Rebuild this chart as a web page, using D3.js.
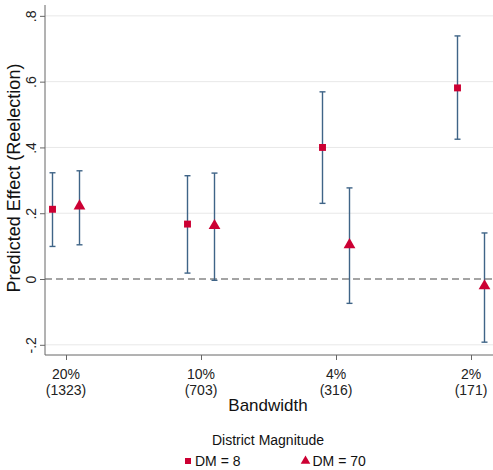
<!DOCTYPE html>
<html>
<head>
<meta charset="utf-8">
<script src="https://cdn.jsdelivr.net/npm/d3@7"></script>
<style>
  body { margin: 0; background: #fff; }
  svg { font-family: "Liberation Sans", Arial, sans-serif; }
</style>
</head>
<body>
<div id="chart"></div>
<script>
// data
const bandwidths = ["20%", "10%", "4%", "2%"];
const obsCounts = ["(1323)", "(703)", "(316)", "(171)"];
const yTicks = [-0.2, 0, 0.2, 0.4, 0.6, 0.8];
const yTickLabels = ["-.2", "0", ".2", ".4", ".6", ".8"];

const dm8Est = [0.212, 0.167, 0.400, 0.581];
const dm8Lo = [0.099, 0.018, 0.230, 0.425];
const dm8Hi = [0.323, 0.314, 0.569, 0.739];

const dm70Est = [0.222, 0.162, 0.104, -0.021];
const dm70Lo = [0.104, -0.004, -0.074, -0.192];
const dm70Hi = [0.329, 0.322, 0.277, 0.140];

const width = 493, height = 470;
const plot = {left: 45, right: 493, top: 5, bottom: 355};

const svg = d3.select("#chart").append("svg")
  .attr("width", width)
  .attr("height", height);

const x = d3.scalePoint()
  .domain(bandwidths)
  .range([66, 471]);

const y = d3.scaleLinear()
  .domain([-0.231, 0.833])
  .range([plot.bottom, plot.top]);

const offset = x.step() * 0.1;

// gridlines
svg.append("g")
  .selectAll("line")
  .data(yTicks.filter(d => d !== 0))
  .enter()
  .append("line")
  .attr("x1", plot.left)
  .attr("x2", plot.right)
  .attr("y1", d => y(d))
  .attr("y2", d => y(d))
  .attr("stroke", "#e8e8e8")
  .attr("stroke-width", 1);

// zero reference line
svg.append("line")
  .attr("x1", plot.left)
  .attr("x2", plot.right)
  .attr("y1", y(0))
  .attr("y2", y(0))
  .attr("stroke", "#4a4a4a")
  .attr("stroke-width", 1.2)
  .attr("stroke-dasharray", "7,4");

// y axis
const yAxis = svg.append("g")
  .attr("transform", "translate(" + plot.left + ",0)")
  .call(d3.axisLeft(y).tickValues(yTicks).tickSize(5).tickFormat((d, i) => yTickLabels[i]));
yAxis.select(".domain").attr("stroke", "#666").attr("d", "M0," + plot.top + "V" + plot.bottom);
yAxis.selectAll(".tick line").attr("stroke", "#666");
yAxis.selectAll(".tick text")
  .attr("x", 0).attr("dy", 0)
  .attr("transform", "translate(-9,0) rotate(-90)")
  .attr("text-anchor", "middle")
  .attr("font-size", 14)
  .attr("fill", "#222");

// x axis
const xAxis = svg.append("g")
  .attr("transform", "translate(0," + plot.bottom + ")")
  .call(d3.axisBottom(x).tickSize(5).tickFormat(""));
xAxis.select(".domain").attr("stroke", "#666").attr("d", "M" + plot.left + ",0H" + plot.right);
xAxis.selectAll(".tick line").attr("stroke", "#666");

// two-line tick labels: bandwidth on top, N below
const xLabels = svg.append("g")
  .attr("font-size", 14)
  .attr("fill", "#222")
  .attr("text-anchor", "middle");
xLabels.selectAll("text.bw")
  .data(bandwidths)
  .enter()
  .append("text")
  .attr("class", "bw")
  .attr("x", d => x(d))
  .attr("y", 379)
  .text(d => d);
xLabels.selectAll("text.n")
  .data(bandwidths)
  .enter()
  .append("text")
  .attr("class", "n")
  .attr("x", d => x(d))
  .attr("y", 395)
  .text((d, i) => obsCounts[i]);

// axis titles
svg.append("text")
  .attr("x", 268)
  .attr("y", 411)
  .attr("text-anchor", "middle")
  .attr("font-size", 17)
  .attr("fill", "#111")
  .text("Bandwidth");

svg.append("text")
  .attr("transform", "translate(20,178) rotate(-90)")
  .attr("text-anchor", "middle")
  .attr("font-size", 18)
  .attr("fill", "#111")
  .text("Predicted Effect (Reelection)");

const series = [
  {name: "DM = 8", est: dm8Est, lo: dm8Lo, hi: dm8Hi, dx: -offset, symbol: d3.symbolSquare, size: 48},
  {name: "DM = 70", est: dm70Est, lo: dm70Lo, hi: dm70Hi, dx: offset, symbol: d3.symbolTriangle, size: 60}
];

const barColor = "#3f6487";
const markColor = "#cc0033";
const cap = 3;

series.forEach(s => {
  const g = svg.append("g");
  const bars = g.selectAll("g.bar")
    .data(bandwidths)
    .enter()
    .append("g")
    .attr("class", "bar")
    .attr("stroke", barColor)
    .attr("stroke-width", 1.4);
  bars.append("line")
    .attr("x1", d => x(d) + s.dx)
    .attr("x2", d => x(d) + s.dx)
    .attr("y1", (d, i) => y(s.lo[i]))
    .attr("y2", (d, i) => y(s.hi[i]));
  bars.append("line")
    .attr("x1", d => x(d) + s.dx - cap)
    .attr("x2", d => x(d) + s.dx + cap)
    .attr("y1", (d, i) => y(s.lo[i]))
    .attr("y2", (d, i) => y(s.lo[i]));
  bars.append("line")
    .attr("x1", d => x(d) + s.dx - cap)
    .attr("x2", d => x(d) + s.dx + cap)
    .attr("y1", (d, i) => y(s.hi[i]))
    .attr("y2", (d, i) => y(s.hi[i]));

  g.selectAll("path.mark")
    .data(bandwidths)
    .enter()
    .append("path")
    .attr("class", "mark")
    .attr("d", d3.symbol().type(s.symbol).size(s.size))
    .attr("transform", (d, i) => "translate(" + (x(d) + s.dx) + "," + y(s.est[i]) + ")")
    .attr("fill", markColor);
});

// legend
svg.append("text")
  .attr("x", 268)
  .attr("y", 445)
  .attr("text-anchor", "middle")
  .attr("font-size", 14)
  .attr("fill", "#111")
  .text("District Magnitude");

const legend = svg.append("g")
  .selectAll("g")
  .data(series)
  .enter()
  .append("g")
  .attr("transform", (d, i) => "translate(" + (i === 0 ? 188 : 305.5) + ",461)");
legend.append("path")
  .attr("d", d => d3.symbol().type(d.symbol).size(d.symbol === d3.symbolSquare ? 36 : 40)())
  .attr("fill", markColor);
legend.append("text")
  .attr("x", 7)
  .attr("y", 5)
  .attr("font-size", 14)
  .attr("fill", "#111")
  .text(d => d.name);
</script>
</body>
</html>
